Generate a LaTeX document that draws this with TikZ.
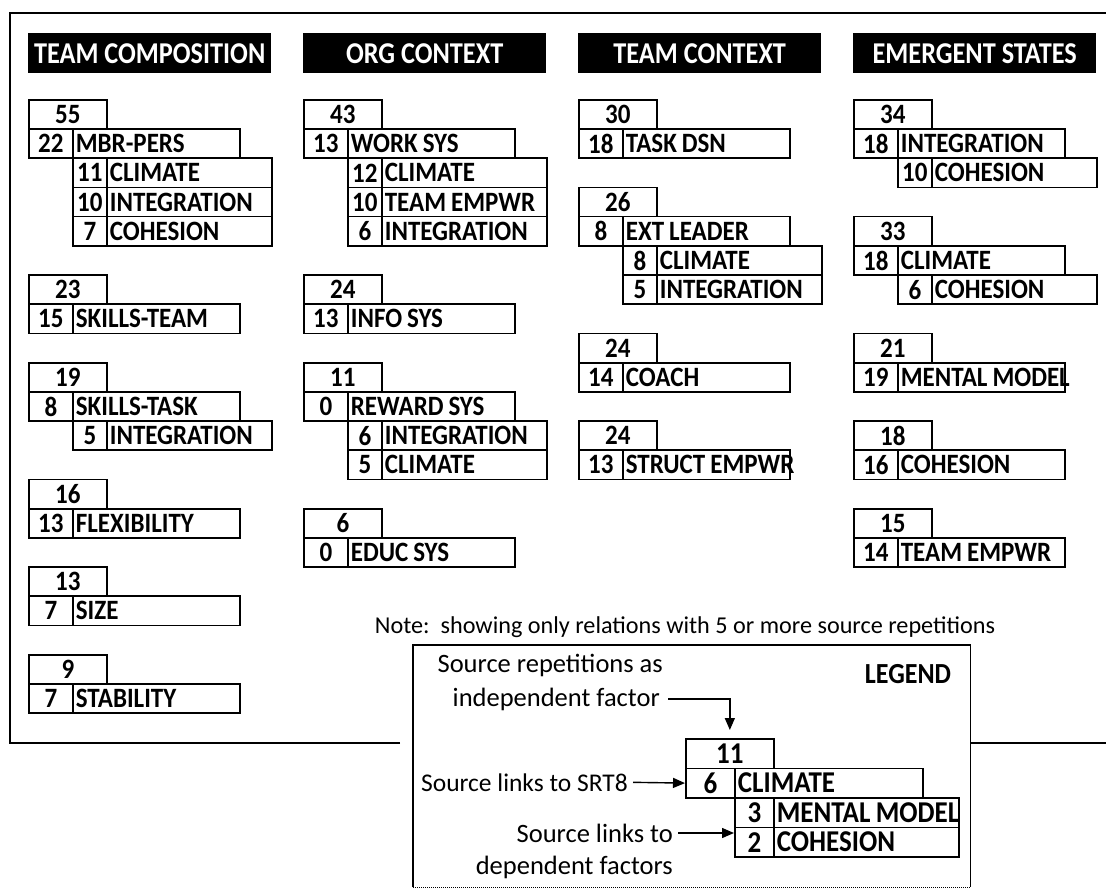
\documentclass[tikz,border=0pt]{standalone}
\usepackage{fontspec}
\usepackage{graphicx}
\setmainfont{Carlito}
\usetikzlibrary{arrows.meta}
\newcommand\cellfont{\fontsize{25}{28}\selectfont\bfseries\spaceskip=0.2em\relax}
\newcommand\lgcellfont{\fontsize{27}{30}\selectfont\bfseries\spaceskip=0.2em\relax}
\newcommand\hdrfont{\fontsize{26.3}{30}\selectfont\bfseries}
\newcommand\txtfont{\fontsize{26.5}{30}\selectfont}
\newcommand\notefont{\fontsize{24.2}{28}\selectfont}
\newcommand\vs[1]{\scalebox{1}[1.12]{#1}}
\tikzset{
  cell/.style={draw, line width=1.7pt, anchor=north west, inner sep=0pt, minimum height=29.2pt, font=\cellfont},
  numcell/.style={cell},
  labcell/.style={cell, inner xsep=3pt},
  hdr/.style={fill=black, anchor=north west, minimum width=243pt, minimum height=40pt, inner sep=0pt, text=white, font=\hdrfont},
  txt/.style={font=\txtfont, inner sep=0pt},
  arr/.style={line width=1.4pt, -{Triangle[length=12pt,width=10pt]}},
  frame/.style={line width=1.6pt},
}
% top box: name, x0, row, number
\newcommand{\topcell}[4]{\node[numcell, minimum width=78pt] (#1) at ({#2},{99+#3*29.2}) {\vs{#4}};}
% main row: name, x0, row, number, label
\newcommand{\mainrow}[5]{%
  \node[numcell, minimum width=44pt] (#1n) at ({#2},{99+#3*29.2}) {\vs{#4}};
  \node[labcell] (#1l) at ({#2+44},{99+#3*29.2}) {\makebox[161pt][l]{\vs{#5}}};}
% child row: name, x0, row, number, label
\newcommand{\childrow}[5]{%
  \node[numcell, minimum width=34pt] (#1n) at ({#2+44},{99+#3*29.2}) {\vs{#4}};
  \node[labcell] (#1l) at ({#2+78},{99+#3*29.2}) {\makebox[159pt][l]{\vs{#5}}};}
\begin{document}
\begin{tikzpicture}[x=1pt, y=-1pt]
\useasboundingbox (0,0) rectangle (1106,896);
% headers
\node[hdr] (h1) at (28,33) {\scalebox{1}[1.15]{TEAM COMPOSITION}};
\node[hdr] (h2) at (303,33) {\scalebox{1}[1.15]{ORG CONTEXT}};
\node[hdr] (h3) at (578,33) {\scalebox{1}[1.15]{TEAM CONTEXT}};
\node[hdr] (h4) at (853,33) {\scalebox{1}[1.15]{EMERGENT STATES}};
% TEAM COMPOSITION
\topcell{aT1}{28}{0}{55}
\mainrow{aM1}{28}{1}{22}{MBR-PERS}
\childrow{aC1}{28}{2}{11}{CLIMATE}
\childrow{aC2}{28}{3}{10}{INTEGRATION}
\childrow{aC3}{28}{4}{7}{COHESION}
\topcell{aT2}{28}{6}{23}
\mainrow{aM2}{28}{7}{15}{SKILLS-TEAM}
\topcell{aT3}{28}{9}{19}
\mainrow{aM3}{28}{10}{8}{SKILLS-TASK}
\childrow{aC4}{28}{11}{5}{INTEGRATION}
\topcell{aT4}{28}{13}{16}
\mainrow{aM4}{28}{14}{13}{FLEXIBILITY}
\topcell{aT5}{28}{16}{13}
\mainrow{aM5}{28}{17}{7}{SIZE}
\topcell{aT6}{28}{19}{9}
\mainrow{aM6}{28}{20}{7}{STABILITY}
% ORG CONTEXT
\topcell{bT1}{303}{0}{43}
\mainrow{bM1}{303}{1}{13}{WORK SYS}
\childrow{bC1}{303}{2}{12}{CLIMATE}
\childrow{bC2}{303}{3}{10}{TEAM EMPWR}
\childrow{bC3}{303}{4}{6}{INTEGRATION}
\topcell{bT2}{303}{6}{24}
\mainrow{bM2}{303}{7}{13}{INFO SYS}
\topcell{bT3}{303}{9}{11}
\mainrow{bM3}{303}{10}{0}{REWARD SYS}
\childrow{bC4}{303}{11}{6}{INTEGRATION}
\childrow{bC5}{303}{12}{5}{CLIMATE}
\topcell{bT4}{303}{14}{6}
\mainrow{bM4}{303}{15}{0}{EDUC SYS}
% TEAM CONTEXT
\topcell{cT1}{578}{0}{30}
\mainrow{cM1}{578}{1}{18}{TASK DSN}
\topcell{cT2}{578}{3}{26}
\mainrow{cM2}{578}{4}{8}{EXT LEADER}
\childrow{cC1}{578}{5}{8}{CLIMATE}
\childrow{cC2}{578}{6}{5}{INTEGRATION}
\topcell{cT3}{578}{8}{24}
\mainrow{cM3}{578}{9}{14}{COACH}
\topcell{cT4}{578}{11}{24}
\mainrow{cM4}{578}{12}{13}{STRUCT EMPWR}
% EMERGENT STATES
\topcell{dT1}{853}{0}{34}
\mainrow{dM1}{853}{1}{18}{INTEGRATION}
\childrow{dC1}{853}{2}{10}{COHESION}
\topcell{dT2}{853}{4}{33}
\mainrow{dM2}{853}{5}{18}{CLIMATE}
\childrow{dC2}{853}{6}{6}{COHESION}
\topcell{dT3}{853}{8}{21}
\mainrow{dM3}{853}{9}{19}{MENTAL MODEL}
\topcell{dT4}{853}{11}{18}
\mainrow{dM4}{853}{12}{16}{COHESION}
\topcell{dT5}{853}{14}{15}
\mainrow{dM5}{853}{15}{14}{TEAM EMPWR}
% outer frame
\draw[frame] (400,743) -- (10,743) -- (10,13) -- (1106,13);
\draw[frame] (970,743) -- (1106,743);
% note
\node[inner sep=0pt, font=\notefont] (note) at (685,627) {Note:\ \ showing only relations with 5 or more source repetitions};
% legend box
\node[anchor=north west, minimum width=557pt, minimum height=242pt, inner sep=0pt] (legend) at (413,645) {};
\draw[frame] (legend.south west) -- (legend.north west) -- (legend.north east) -- (legend.south east);
\draw[line width=1pt, densely dotted] (legend.south west) -- (legend.south east);
\node[inner sep=0pt, font=\fontsize{26}{30}\selectfont\bfseries] (lgt) at (908,674) {\vs{LEGEND}};
% legend sample
\node[numcell, minimum width=88pt, minimum height=29.5pt, font=\lgcellfont] (lg11) at (685,738) {\vs{11}};
\node[numcell, minimum width=49pt, minimum height=29.5pt, font=\lgcellfont] (lg6n) at (685,767.5) {\vs{6}};
\node[labcell, minimum height=29.5pt, font=\lgcellfont] (lg6l) at (734,767.5) {\makebox[182pt][l]{\vs{CLIMATE}}};
\node[numcell, minimum width=39pt, minimum height=29.5pt, font=\lgcellfont] (lg3n) at (734,797) {\vs{3}};
\node[labcell, minimum height=29.5pt, font=\lgcellfont] (lg3l) at (773,797) {\makebox[179pt][l]{\vs{MENTAL MODEL}}};
\node[numcell, minimum width=39pt, minimum height=29.5pt, font=\lgcellfont] (lg2n) at (734,826.5) {\vs{2}};
\node[labcell, minimum height=29.5pt, font=\lgcellfont] (lg2l) at (773,826.5) {\makebox[179pt][l]{\vs{COHESION}}};
% legend texts
\node[txt, anchor=east] (lt1) at (663,665) {Source repetitions as};
\node[txt, anchor=east] (lt2) at (660,699) {independent factor};
\node[txt, anchor=east, font=\fontsize{25.5}{30}\selectfont] (lt3) at (628,782.25) {Source links to SRT8};
\node[txt, anchor=east] (lt4) at (673,833) {Source links to};
\node[txt, anchor=east] (lt5) at (673,867) {dependent factors};
% legend arrows
\draw[arr, shorten <=8pt, shorten >=8pt] (lt2.east) -| (lg11.north);
\draw[arr, shorten <=5pt] (lt3.east) -- (lg6n.west);
\draw[arr, shorten <=5pt] (lt4.east) -- (lt4.east -| lg2n.west);
\end{tikzpicture}
\end{document}
